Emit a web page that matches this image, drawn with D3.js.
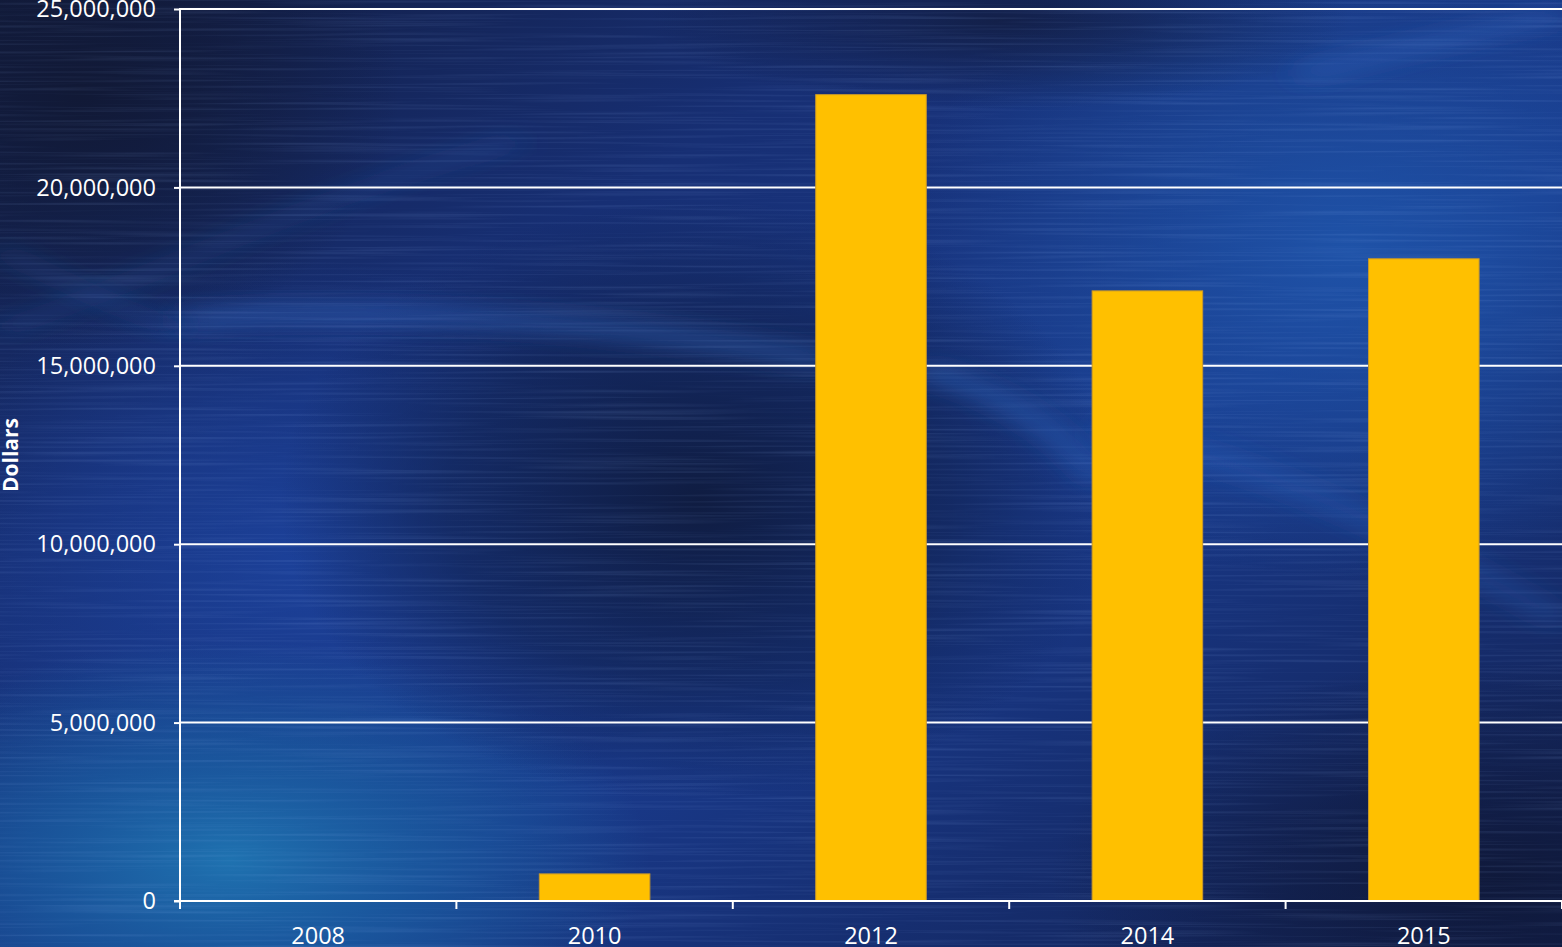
<!DOCTYPE html>
<html>
<head>
<meta charset="utf-8">
<script src="https://cdn.jsdelivr.net/npm/d3@7/dist/d3.min.js"></script>
<style>
  html, body { margin: 0; padding: 0; background: #16307a; overflow: hidden; }
  svg { display: block; }
  text { font-family: "Open Sans", "Noto Sans", sans-serif; fill: #ffffff; }
</style>
</head>
<body>
<svg id="chart" width="1562" height="947"></svg>
<script>
// ---- data ----
const years = ["2008", "2010", "2012", "2014", "2015"];
const dollars = [0, 760000, 22600000, 17100000, 18000000];
const yTicks = [0, 5000000, 10000000, 15000000, 20000000, 25000000];
const yLabel = "Dollars";

// ---- layout ----
const W = 1562, H = 947;
const margin = { left: 180, right: 0, top: 9, bottom: 46 };
const x0 = margin.left, x1 = W - margin.right;
const y0 = H - margin.bottom, y1 = margin.top;

const svg = d3.select("#chart");
const defs = svg.append("defs");

// ---- background ----
function radial(id, stops) {
  const g = defs.append("radialGradient").attr("id", id);
  stops.forEach(s => g.append("stop").attr("offset", s[0]).attr("stop-color", s[1]).attr("stop-opacity", s[2]));
}
const lin = defs.append("linearGradient").attr("id", "bgLin").attr("x1", 0).attr("y1", 0).attr("x2", 1).attr("y2", 1);
[["0%", "#121c3f"], ["30%", "#172f74"], ["60%", "#19398a"], ["100%", "#12204f"]]
  .forEach(s => lin.append("stop").attr("offset", s[0]).attr("stop-color", s[1]));
radial("glowLL", [["0%", "#1f72b0", 1], ["50%", "#1a5ea2", 0.7], ["100%", "#1a5ea2", 0]]);
radial("glowR", [["0%", "#1f55ab", 0.9], ["100%", "#1f55ab", 0]]);
radial("darkC", [["0%", "#0f1b3e", 0.95], ["60%", "#10204c", 0.6], ["100%", "#10204c", 0]]);
radial("darkTL", [["0%", "#111936", 1], ["100%", "#111936", 0]]);
radial("darkBR", [["0%", "#0f1838", 0.9], ["100%", "#0f1838", 0]]);
radial("midBlue", [["0%", "#1d44a0", 0.8], ["100%", "#1d44a0", 0]]);

const blur = defs.append("filter").attr("id", "blur").attr("x", "-50%").attr("y", "-50%").attr("width", "200%").attr("height", "200%");
blur.append("feGaussianBlur").attr("stdDeviation", "16 10");

const streak = defs.append("filter").attr("id", "streak").attr("x", 0).attr("y", 0).attr("width", "100%").attr("height", "100%");
streak.append("feTurbulence").attr("type", "fractalNoise").attr("baseFrequency", "0.004 0.35").attr("numOctaves", 2).attr("seed", 7).attr("result", "n");
streak.append("feColorMatrix").attr("type", "matrix")
  .attr("values", "0 0 0 0 0.35  0 0 0 0 0.55  0 0 0 0 1  0 0 0 1.6 -0.75");

const bg = svg.append("g");
bg.append("rect").attr("width", W).attr("height", H).attr("fill", "url(#bgLin)");
bg.append("ellipse").attr("cx", 1350).attr("cy", 250).attr("rx", 450).attr("ry", 330).attr("fill", "url(#glowR)");
bg.append("ellipse").attr("cx", 300).attr("cy", 560).attr("rx", 400).attr("ry", 300).attr("fill", "url(#midBlue)");
bg.append("ellipse").attr("cx", 230).attr("cy", 860).attr("rx", 420).attr("ry", 220).attr("fill", "url(#glowLL)");
bg.append("ellipse").attr("cx", 700).attr("cy", 500).attr("rx", 420).attr("ry", 300).attr("fill", "url(#darkC)");
bg.append("ellipse").attr("cx", 80).attr("cy", 90).attr("rx", 320).attr("ry", 260).attr("fill", "url(#darkTL)");
bg.append("ellipse").attr("cx", 1500).attr("cy", 880).attr("rx", 450).attr("ry", 220).attr("fill", "url(#darkBR)");
bg.append("ellipse").attr("cx", 1000).attr("cy", 20).attr("rx", 350).attr("ry", 90).attr("fill", "url(#darkTL)").attr("opacity", 0.7);

// light streaks
const streaks = [
  { d: "M0,330 C150,280 300,200 520,140", w: 12, o: 0.22 },
  { d: "M180,320 C400,300 650,330 830,360", w: 20, o: 0.35 },
  { d: "M920,370 C1000,390 1060,430 1100,480", w: 18, o: 0.4 },
  { d: "M1100,430 C1300,470 1450,560 1562,620", w: 24, o: 0.22 },
  { d: "M1300,75 C1400,50 1480,30 1562,15", w: 14, o: 0.35 },
  { d: "M0,250 C60,280 120,310 180,330", w: 12, o: 0.22 }
];
bg.selectAll("path.streak").data(streaks).join("path")
  .attr("d", d => d.d).attr("fill", "none")
  .attr("stroke", "#3a78d6").attr("stroke-width", d => d.w)
  .attr("stroke-opacity", d => d.o).attr("filter", "url(#blur)");

bg.append("rect").attr("width", W).attr("height", H).attr("filter", "url(#streak)").attr("opacity", 0.18);

// ---- scales ----
const x = d3.scaleBand().domain(years).range([x0, x1]).paddingInner(0.6).paddingOuter(0.3);
const y = d3.scaleLinear().domain([0, 25000000]).range([y0, y1]);
const fmt = d3.format(",");

// gridlines
svg.append("g").selectAll("line").data(yTicks.filter(t => t > 0)).join("line")
  .attr("x1", x0).attr("x2", x1).attr("y1", d => y(d)).attr("y2", d => y(d))
  .attr("stroke", "#ffffff").attr("stroke-width", 2);

// bars
svg.append("g").selectAll("rect").data(years.map((yr, i) => ({ yr, v: dollars[i] })).filter(d => d.v > 0)).join("rect")
  .attr("x", d => x(d.yr)).attr("width", x.bandwidth())
  .attr("y", d => y(d.v)).attr("height", d => y(0) - y(d.v))
  .attr("fill", "#ffc000").attr("stroke", "#c9982a").attr("stroke-width", 1);

// y axis
const yAxis = d3.axisLeft(y).tickValues(yTicks).tickFormat(fmt).tickSize(6).tickPadding(18);
const gy = svg.append("g").attr("transform", `translate(${x0},0)`).call(yAxis);
gy.select(".domain").attr("stroke", "#ffffff").attr("stroke-width", 2).attr("d", `M0,${y1 - 1}V${y0 + 6}`);
gy.selectAll(".tick line").attr("stroke", "#ffffff").attr("stroke-width", 2);
gy.selectAll(".tick text").attr("fill", "#ffffff").style("font-size", "23.5px")
  .style("font-family", '"Open Sans", "Noto Sans", sans-serif').attr("dy", "0.33em");

// x axis
const xBound = d3.scalePoint().domain(d3.range(years.length + 1)).range([x0, x1]);
const gx = svg.append("g");
gx.append("line").attr("x1", x0 - 6).attr("x2", x1).attr("y1", y0).attr("y2", y0)
  .attr("stroke", "#ffffff").attr("stroke-width", 2);
gx.selectAll("line.tk").data(d3.range(years.length + 1)).join("line").attr("class", "tk")
  .attr("x1", d => xBound(d)).attr("x2", d => xBound(d)).attr("y1", y0).attr("y2", y0 + 8)
  .attr("stroke", "#ffffff").attr("stroke-width", 2);
gx.selectAll("text").data(years).join("text")
  .attr("x", d => x(d) + x.bandwidth() / 2).attr("y", y0 + 43)
  .attr("text-anchor", "middle").style("font-size", "23.5px").text(d => d);

// y label
svg.append("text").attr("transform", `translate(18,${(y0 + y1) / 2}) rotate(-90)`)
  .attr("text-anchor", "middle").style("font-size", "21px").style("font-weight", "bold").text(yLabel);
</script>
</body>
</html>
